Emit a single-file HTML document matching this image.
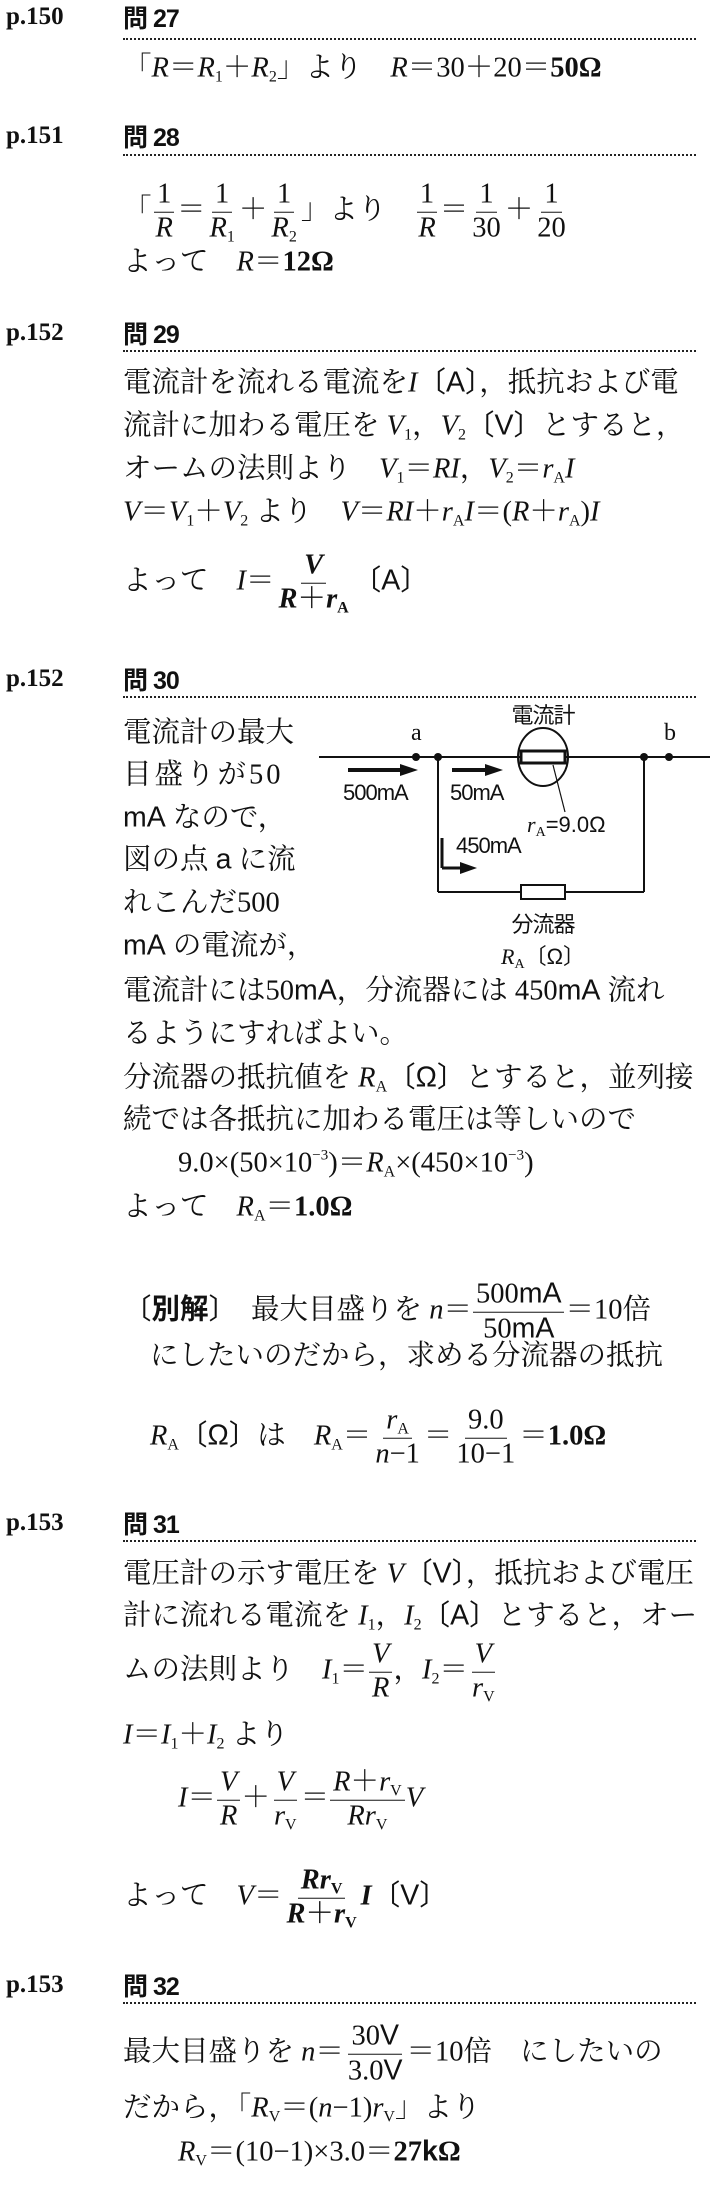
<!DOCTYPE html>
<html><head><meta charset="utf-8">
<style>
html,body{margin:0;padding:0;background:#fff;}
body{width:720px;height:2205px;position:relative;overflow:hidden;color:#111;
font-family:"Liberation Serif","Noto Serif CJK SC",serif;font-size:28.5px;}
.l{position:absolute;left:123px;transform:translateY(-50%);display:block;line-height:1.3;white-space:nowrap;}
.h{position:absolute;left:6px;transform:translateY(-50%);font-weight:bold;font-size:25px;white-space:nowrap;}
.q{position:absolute;left:123px;transform:translateY(-50%);font-family:"Liberation Sans","Noto Sans CJK JP",sans-serif;font-weight:bold;font-size:25px;white-space:nowrap;letter-spacing:-1px}
.dot{position:absolute;left:123px;width:573px;border-top:2px dotted #222;height:0;}
i{font-style:italic;font-family:"Liberation Serif",serif;}
sub{font-size:16px;vertical-align:-5px;font-style:normal;line-height:0;}
sup{font-size:15px;vertical-align:12px;line-height:0;}
b{font-weight:bold;}
.s{font-family:"Liberation Sans","Noto Sans CJK JP",sans-serif;}
.fr{display:inline-flex;flex-direction:column;align-items:center;vertical-align:middle;margin:0 1px;line-height:1.15;}
.fr .n{border-bottom:1.6px solid #111;padding:0 3px;}
.fr .d{padding:0 3px;}
.sp{display:inline-block;width:28px;}
svg{position:absolute;left:0;top:0;}
</style></head><body>

<div class="h" style="top:17px">p.150</div><div class="q" style="top:17px">問 27</div>
<div class="dot" style="top:38px"></div>
<div class="l" style="top:68px">「<i>R</i>＝<i>R</i><sub>1</sub>＋<i>R</i><sub>2</sub>」より<span class="sp"></span><i>R</i>＝30＋20＝<b>50Ω</b></div>

<div class="h" style="top:136px">p.151</div><div class="q" style="top:136px">問 28</div>
<div class="dot" style="top:154px"></div>
<div class="l" style="top:212px">「<span class="fr"><span class="n">1</span><span class="d"><i>R</i></span></span>＝<span class="fr"><span class="n">1</span><span class="d"><i>R</i><sub>1</sub></span></span>＋<span class="fr"><span class="n">1</span><span class="d"><i>R</i><sub>2</sub></span></span>」より<span class="sp"></span><span class="fr"><span class="n">1</span><span class="d"><i>R</i></span></span>＝<span class="fr"><span class="n">1</span><span class="d">30</span></span>＋<span class="fr"><span class="n">1</span><span class="d">20</span></span></div>
<div class="l" style="top:262px">よって<span class="sp"></span><i>R</i>＝<b>12Ω</b></div>

<div class="h" style="top:333px">p.152</div><div class="q" style="top:333px">問 29</div>
<div class="dot" style="top:350px"></div>
<div class="l" style="top:383px">電流計を流れる電流を<i>I</i><span class="s">〔A〕</span>，抵抗および電</div>
<div class="l" style="top:426px">流計に加わる電圧を <i>V</i><sub>1</sub>，<i>V</i><sub>2</sub><span class="s">〔V〕</span>とすると，</div>
<div class="l" style="top:469px">オームの法則より<span class="sp"></span><i>V</i><sub>1</sub>＝<i>RI</i>，<i>V</i><sub>2</sub>＝<i>r</i><sub>A</sub><i>I</i></div>
<div class="l" style="top:512px"><i>V</i>＝<i>V</i><sub>1</sub>＋<i>V</i><sub>2</sub> より<span class="sp"></span><i>V</i>＝<i>RI</i>＋<i>r</i><sub>A</sub><i>I</i>＝(<i>R</i>＋<i>r</i><sub>A</sub>)<i>I</i></div>
<div class="l" style="top:583px">よって<span class="sp"></span><i>I</i>＝<span class="fr"><span class="n"><b><i>V</i></b></span><span class="d"><b><i>R</i>＋<i>r</i><sub>A</sub></b></span></span><span class="s">〔A〕</span></div>

<div class="h" style="top:679px">p.152</div><div class="q" style="top:679px">問 30</div>
<div class="dot" style="top:696px"></div>
<div class="l" style="top:733px">電流計の最大</div>
<div class="l" style="top:775px;letter-spacing:3px">目盛りが50</div>
<div class="l" style="top:818px"><span class="s">mA</span> なので，</div>
<div class="l" style="top:860px">図の点 <span class="s">a</span> に流</div>
<div class="l" style="top:903px">れこんだ500</div>
<div class="l" style="top:946px"><span class="s">mA</span> の電流が，</div>

<svg width="720" height="2205">
 <g stroke="#111" fill="none" stroke-width="2">
  <line x1="319" y1="757" x2="710" y2="757"/>
  <line x1="438" y1="757" x2="438" y2="892"/>
  <line x1="644" y1="757" x2="644" y2="892"/>
  <line x1="438" y1="892" x2="521" y2="892"/>
  <line x1="564" y1="892" x2="644" y2="892"/>
  <rect x="521" y="885" width="44" height="14" fill="#fff"/>
  <ellipse cx="543" cy="757" rx="25" ry="29"/>
  <rect x="521" y="751" width="44" height="12" fill="#fff" stroke-width="3"/>
  <line x1="553" y1="765" x2="565" y2="812" stroke-width="1.2"/>
  <line x1="442" y1="838" x2="442" y2="868" stroke-width="3"/>
  <line x1="442" y1="868" x2="462" y2="868" stroke-width="3"/>
  <line x1="348" y1="770" x2="402" y2="770" stroke-width="4"/>
  <line x1="452" y1="770" x2="487" y2="770" stroke-width="4"/>
 </g>
 <g fill="#111">
  <circle cx="416" cy="757" r="4"/><circle cx="438" cy="757" r="4"/>
  <circle cx="644" cy="757" r="4"/><circle cx="669" cy="757" r="4"/>
  <polygon points="418,770 400,764 400,776"/>
  <polygon points="503,770 485,764 485,776"/>
  <polygon points="477,868 460,862 460,874"/>
 </g>
 <g font-family="Liberation Serif" font-size="24" fill="#111">
  <text x="411" y="740">a</text><text x="664" y="740">b</text>
 </g>
 <g font-family="Liberation Sans, Noto Sans CJK JP, sans-serif" font-size="22" fill="#111" letter-spacing="-1">
  <text x="543" y="723" text-anchor="middle">電流計</text>
  <text x="343" y="800">500mA</text>
  <text x="450" y="800">50mA</text>
  <text x="456" y="853">450mA</text>
  <text x="543" y="932" text-anchor="middle">分流器</text>
 </g>
 <text x="527" y="832" font-family="Liberation Serif" font-size="22" fill="#111"><tspan font-style="italic">r</tspan><tspan font-size="14" dy="4">A</tspan><tspan dy="-4" font-family="Liberation Sans">=9.0Ω</tspan></text>
 <text x="543" y="964" text-anchor="middle" font-family="Liberation Serif" font-size="22" fill="#111"><tspan font-style="italic">R</tspan><tspan font-size="14" dy="4">A</tspan><tspan dy="-4" font-family="Liberation Sans">〔Ω〕</tspan></text>
</svg>

<div class="l" style="top:991px">電流計には50<span class="s">mA</span>，分流器には 450<span class="s">mA</span> 流れ</div>
<div class="l" style="top:1034px">るようにすればよい。</div>
<div class="l" style="top:1078px">分流器の抵抗値を <i>R</i><sub>A</sub><span class="s">〔Ω〕</span>とすると，並列接</div>
<div class="l" style="top:1120px">続では各抵抗に加わる電圧は等しいので</div>
<div class="l" style="top:1163px;left:178px">9.0×(50×10<sup>−3</sup>)＝<i>R</i><sub>A</sub>×(450×10<sup>−3</sup>)</div>
<div class="l" style="top:1207px">よって<span class="sp"></span><i>R</i><sub>A</sub>＝<b>1.0Ω</b></div>
<div class="l" style="top:1312px"><span class="s">〔<b>別解</b>〕</span><span style="width:14px;display:inline-block"></span>最大目盛りを <i>n</i>＝<span class="fr"><span class="n">500<span class="s">mA</span></span><span class="d">50<span class="s">mA</span></span></span>＝10倍</div>
<div class="l" style="top:1356px;left:150px">にしたいのだから，求める分流器の抵抗</div>
<div class="l" style="top:1438px;left:150px"><i>R</i><sub>A</sub><span class="s">〔Ω〕</span>は<span class="sp"></span><i>R</i><sub>A</sub>＝<span class="fr"><span class="n"><i>r</i><sub>A</sub></span><span class="d"><i>n</i>−1</span></span>＝<span class="fr"><span class="n">9.0</span><span class="d">10−1</span></span>＝<b>1.0Ω</b></div>

<div class="h" style="top:1523px">p.153</div><div class="q" style="top:1523px">問 31</div>
<div class="dot" style="top:1540px"></div>
<div class="l" style="top:1574px">電圧計の示す電圧を <i>V</i><span class="s">〔V〕</span>，抵抗および電圧</div>
<div class="l" style="top:1616px">計に流れる電流を <i>I</i><sub>1</sub>，<i>I</i><sub>2</sub><span class="s">〔A〕</span>とすると，オー</div>
<div class="l" style="top:1672px">ムの法則より<span class="sp"></span><i>I</i><sub>1</sub>＝<span class="fr"><span class="n"><i>V</i></span><span class="d"><i>R</i></span></span>，<i>I</i><sub>2</sub>＝<span class="fr"><span class="n"><i>V</i></span><span class="d"><i>r</i><sub>V</sub></span></span></div>
<div class="l" style="top:1735px"><i>I</i>＝<i>I</i><sub>1</sub>＋<i>I</i><sub>2</sub> より</div>
<div class="l" style="top:1800px;left:178px"><i>I</i>＝<span class="fr"><span class="n"><i>V</i></span><span class="d"><i>R</i></span></span>＋<span class="fr"><span class="n"><i>V</i></span><span class="d"><i>r</i><sub>V</sub></span></span>＝<span class="fr"><span class="n"><i>R</i>＋<i>r</i><sub>V</sub></span><span class="d"><i>Rr</i><sub>V</sub></span></span><i>V</i></div>
<div class="l" style="top:1898px">よって<span class="sp"></span><i>V</i>＝<span class="fr"><span class="n"><b><i>Rr</i><sub>V</sub></b></span><span class="d"><b><i>R</i>＋<i>r</i><sub>V</sub></b></span></span><b><i>I</i></b><span class="s">〔V〕</span></div>

<div class="h" style="top:1985px">p.153</div><div class="q" style="top:1985px">問 32</div>
<div class="dot" style="top:2002px"></div>
<div class="l" style="top:2054px">最大目盛りを <i>n</i>＝<span class="fr"><span class="n">30<span class="s">V</span></span><span class="d">3.0<span class="s">V</span></span></span>＝10倍<span class="sp"></span>にしたいの</div>
<div class="l" style="top:2108px">だから，「<i>R</i><sub>V</sub>＝(<i>n</i>−1)<i>r</i><sub>V</sub>」より</div>
<div class="l" style="top:2152px;left:178px"><i>R</i><sub>V</sub>＝(10−1)×3.0＝<b>27<span class="s">k</span>Ω</b></div>

</body></html>
